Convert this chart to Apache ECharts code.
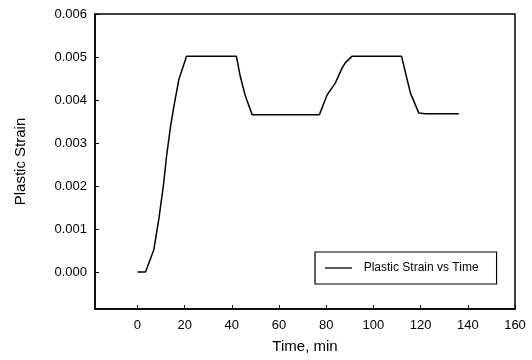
<!DOCTYPE html>
<html>
<head>
<meta charset="utf-8">
<script src="https://cdn.jsdelivr.net/npm/echarts@6/dist/echarts.min.js"></script>
<style>
  html, body { margin: 0; padding: 0; background: #fff; }
  #main { width: 532px; height: 360px; }
</style>
</head>
<body>
<div id="main"></div>
<script>
// time in minutes, strain
var timeMin = [0, 3.4, 6.9, 9.0, 11.1, 12.3, 14.0, 15.4, 17.5, 20.8, 41.9, 43.6, 45.8, 48.6,
  77.1, 80.4, 83.9, 86.7, 88.1, 91.0, 111.9, 114.0, 115.7, 119.2, 122.0, 136.2];
var plasticStrain = [0, 0, 0.00051, 0.00121, 0.00206, 0.00268, 0.00338, 0.00384, 0.00447, 0.00502,
  0.00502, 0.00454, 0.00408, 0.00366, 0.00366, 0.00412, 0.00440, 0.00474, 0.00487, 0.00502,
  0.00502, 0.00454, 0.00416, 0.00370, 0.00368, 0.00368];
var xTicks = [0, 20, 40, 60, 80, 100, 120, 140, 160];
var yTicks = [0, 0.001, 0.002, 0.003, 0.004, 0.005, 0.006];

var chartDom = document.getElementById('main');
var myChart = echarts.init(chartDom);
var font = 'Liberation Sans, Arial, sans-serif';
var option = {
    animation: false,
    textStyle: { fontFamily: font },
    grid: {
        left: 95, right: 17, top: 14, bottom: 51,
        show: true, borderColor: '#000', borderWidth: 1.5
    },
    legend: {
        left: 315, top: 252,
        padding: [10, 18, 10, 10],
        borderColor: '#000', borderWidth: 1.2,
        icon: 'rect',
        itemWidth: 27, itemHeight: 1.3,
        textStyle: { fontFamily: font, fontSize: 12, color: '#000' },
        formatter: function (name) { return '  ' + name; },
        data: ['Plastic Strain vs Time']
    },
    xAxis: {
        type: 'value',
        min: -18, max: 160,
        name: 'Time, min',
        nameLocation: 'middle',
        nameGap: 30,
        nameTextStyle: { fontSize: 15, color: '#000' },
        splitLine: { show: false },
        axisLine: { onZero: false, lineStyle: { color: '#000', width: 1.5 } },
        axisTick: { inside: true, length: 4, customValues: xTicks, lineStyle: { color: '#000' } },
        axisLabel: { customValues: xTicks, fontSize: 13, color: '#000', margin: 10 }
    },
    yAxis: {
        type: 'value',
        min: -0.00086, max: 0.006,
        name: 'Plastic Strain',
        nameLocation: 'middle',
        nameGap: 67,
        nameTextStyle: { fontSize: 15, color: '#000' },
        splitLine: { show: false },
        axisLine: { onZero: false, lineStyle: { color: '#000', width: 1.5 } },
        axisTick: { inside: true, length: 4, customValues: yTicks, lineStyle: { color: '#000' } },
        axisLabel: {
            customValues: yTicks, fontSize: 13, color: '#000', margin: 8,
            formatter: function (v) { return v.toFixed(3); }
        }
    },
    series: [{
        name: 'Plastic Strain vs Time',
        type: 'line',
        symbol: 'none',
        color: '#000',
        lineStyle: { color: '#000', width: 1.5 },
        data: timeMin.map(function (t, i) { return [t, plasticStrain[i]]; })
    }]
};
option && myChart.setOption(option);
</script>
</body>
</html>
